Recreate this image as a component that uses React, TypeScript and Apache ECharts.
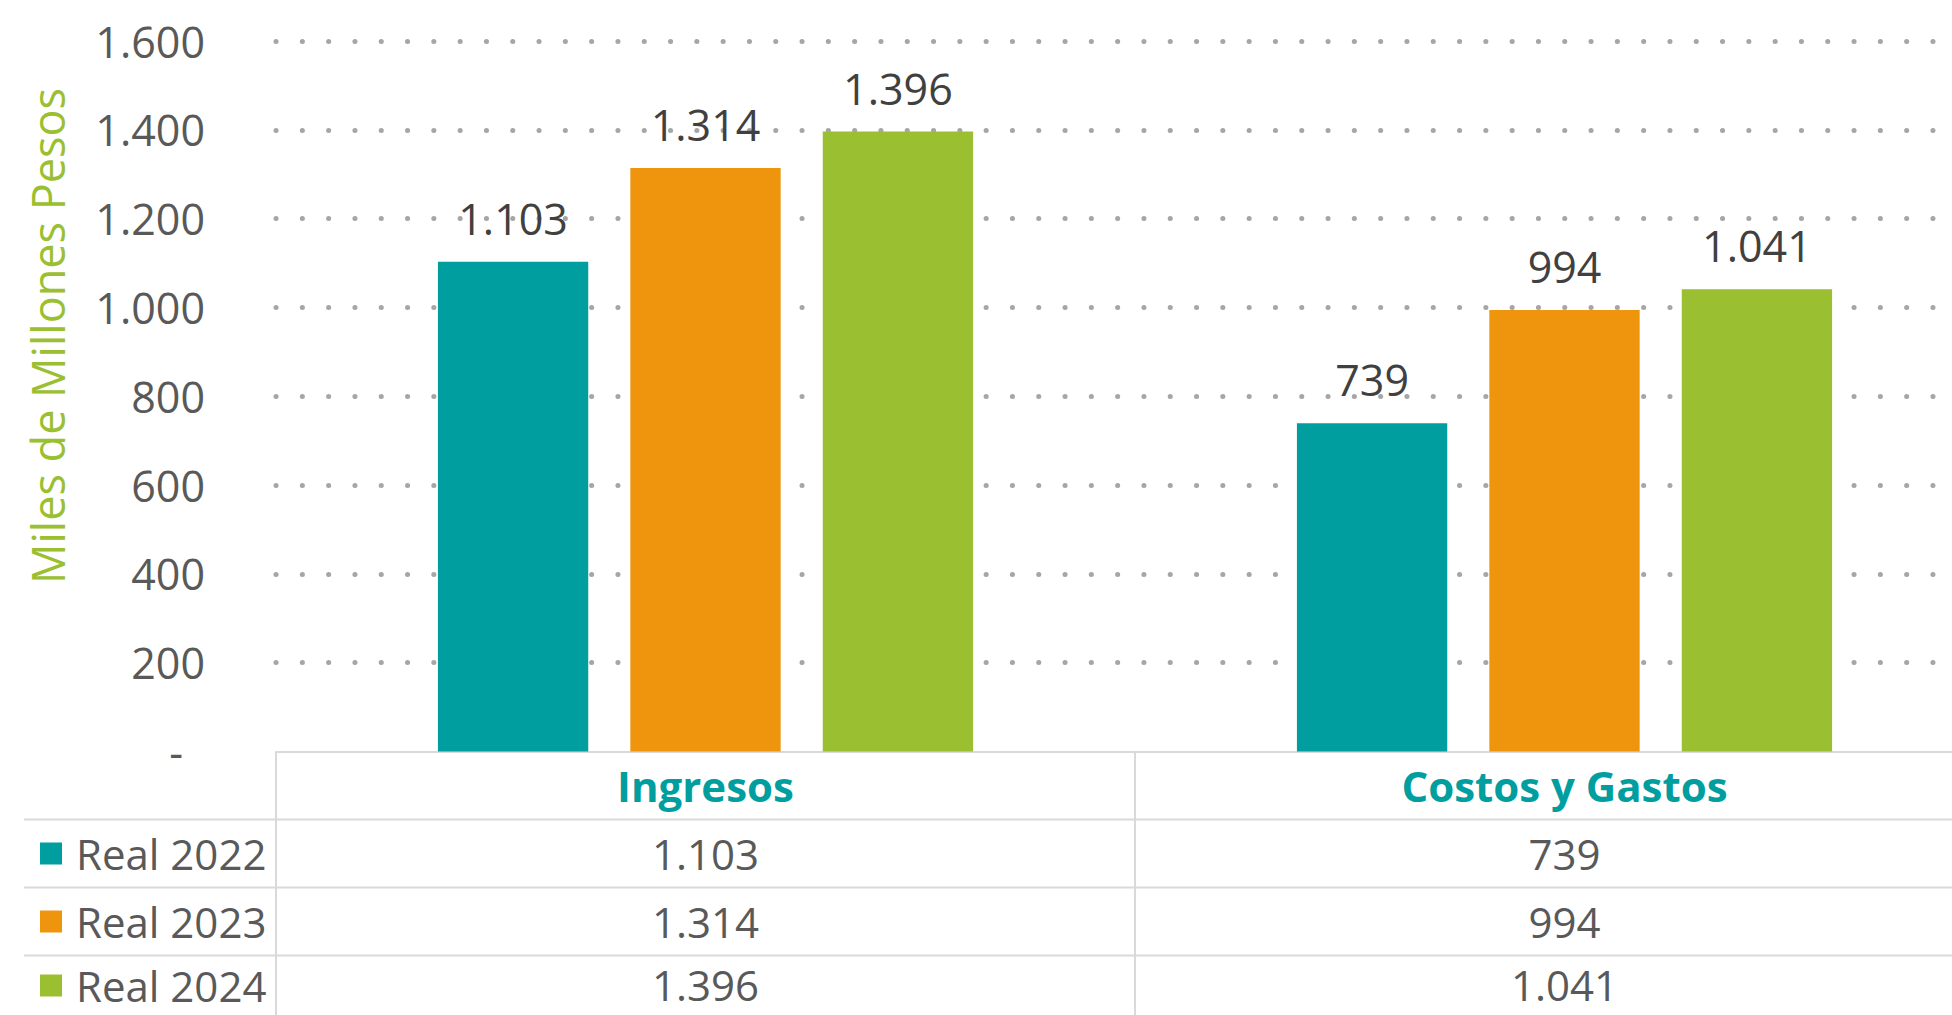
import React, { useEffect, useRef } from "react";
import * as echarts from "echarts";

const categories = ["Ingresos", "Costos y Gastos"];
const seriesNames = ["Real 2022", "Real 2023", "Real 2024"];
const real2022 = [1103, 739];
const real2023 = [1314, 994];
const real2024 = [1396, 1041];
const seriesValues = [real2022, real2023, real2024];
const colors = ["#009E9F", "#EF950D", "#9ABF30"];
const yAxisTitle = "Miles de Millones Pesos";
const yMax = 1600;
const yInterval = 200;

const VIEW_W = 1952;
const W = 1994; // chart canvas is slightly wider than the view, as in the cropped reference
const H = 1015;
const GRID_LEFT = 276;
const GRID_TOP = 41;
const GRID_H = 710.5;
const ROW_H = 68;
const LEGEND_FONT = 42;
const FONT = "'Open Sans', 'Noto Sans', sans-serif";

function fmt(n: number): string {
  const s = String(Math.round(n));
  return s.replace(/\B(?=(\d{3})+(?!\d))/g, ".");
}

export default function App() {
  const ref = useRef<HTMLDivElement>(null);
  useEffect(() => {
    document.body.style.margin = "0";
    if (!ref.current) return;
    const chart = echarts.init(ref.current, null, { renderer: "svg" });
    const axisBottom = GRID_TOP + GRID_H;

    const tableLines = [1, 2, 3].map((k) => ({
      type: "line",
      shape: { x1: 24, y1: axisBottom + ROW_H * k, x2: W, y2: axisBottom + ROW_H * k },
      style: { stroke: "#D9D9D9", lineWidth: 2 },
      silent: true,
    }));

    const legends = seriesNames.map((name, i) => {
      const rowCenter = axisBottom + ROW_H * (i + 1) + ROW_H / 2 - (i === seriesNames.length - 1 ? 4 : 0);
      return {
        orient: "horizontal",
        left: 40,
        top: rowCenter - LEGEND_FONT / 2,
        padding: 0,
        itemWidth: 22,
        itemHeight: 22,
        icon: "rect",
        data: [name],
        selectedMode: false,
        textStyle: {
          fontFamily: FONT,
          fontSize: LEGEND_FONT,
          lineHeight: LEGEND_FONT,
          color: "#595959",
          padding: [0, 0, 0, 9],
        },
      };
    });

    const option: any = {
      animation: false,
      textStyle: { fontFamily: FONT },
      grid: { left: GRID_LEFT, top: GRID_TOP, right: 0, height: GRID_H, containLabel: false },
      legend: legends,
      xAxis: {
        type: "category",
        data: categories,
        axisLine: { show: true, lineStyle: { color: "#D9D9D9", width: 2 } },
        axisTick: { show: true, length: H - axisBottom, lineStyle: { color: "#D9D9D9", width: 2 } },
        axisLabel: {
          interval: 0,
          margin: 0,
          formatter: (value: string, idx: number) => {
            const lines = [`{h|${value}}`];
            seriesValues.forEach((arr, k) =>
              lines.push(`{${k === seriesValues.length - 1 ? "w" : "v"}|${fmt(arr[idx])}}`)
            );
            return lines.join("\n");
          },
          rich: {
            h: { fontFamily: FONT, fontSize: 42, fontWeight: "bold", color: "#009E9F", lineHeight: ROW_H },
            v: { fontFamily: FONT, fontSize: 42, color: "#595959", lineHeight: ROW_H },
            w: { fontFamily: FONT, fontSize: 42, color: "#595959", lineHeight: 58 },
          },
        },
        splitLine: { show: false },
      },
      yAxis: {
        type: "value",
        min: 0,
        max: yMax,
        interval: yInterval,
        axisLine: { show: false },
        axisTick: { show: false },
        axisLabel: {
          margin: 71,
          fontFamily: FONT,
          fontSize: 43,
          color: "#595959",
          formatter: (v: number) => (v === 0 ? "{d|-}" : fmt(v)),
          rich: {
            d: { fontFamily: FONT, fontSize: 43, color: "#595959", padding: [0, 22, 0, 0] },
          },
        },
        splitLine: {
          show: true,
          showMinLine: false,
          lineStyle: { color: "#A6A6A6", width: 5, type: [0.1, 26.2], cap: "round" },
        },
      },
      series: seriesNames.map((name, i) => ({
        name,
        type: "bar",
        data: seriesValues[i],
        barWidth: "17.5%",
        barGap: "28%",
        itemStyle: { color: colors[i] },
        label: {
          show: true,
          position: "top",
          distance: 22,
          fontFamily: FONT,
          fontSize: 43,
          color: "#404040",
          formatter: (p: any) => fmt(p.value),
        },
      })),
      graphic: [
        ...tableLines,
        {
          type: "text",
          x: 47,
          y: 336,
          rotation: Math.PI / 2,
          style: {
            text: yAxisTitle,
            fill: "#9ABF30",
            font: `45px ${FONT}`,
            textAlign: "center",
            textVerticalAlign: "middle",
          },
          silent: true,
        },
      ],
    };
    chart.setOption(option);
    return () => chart.dispose();
  }, []);
  return (
    <div
      style={{
        position: "fixed",
        left: 0,
        top: 0,
        width: VIEW_W,
        height: H,
        overflow: "hidden",
        background: "#ffffff",
      }}
    >
      <div ref={ref} style={{ width: W, height: H }} />
    </div>
  );
}
